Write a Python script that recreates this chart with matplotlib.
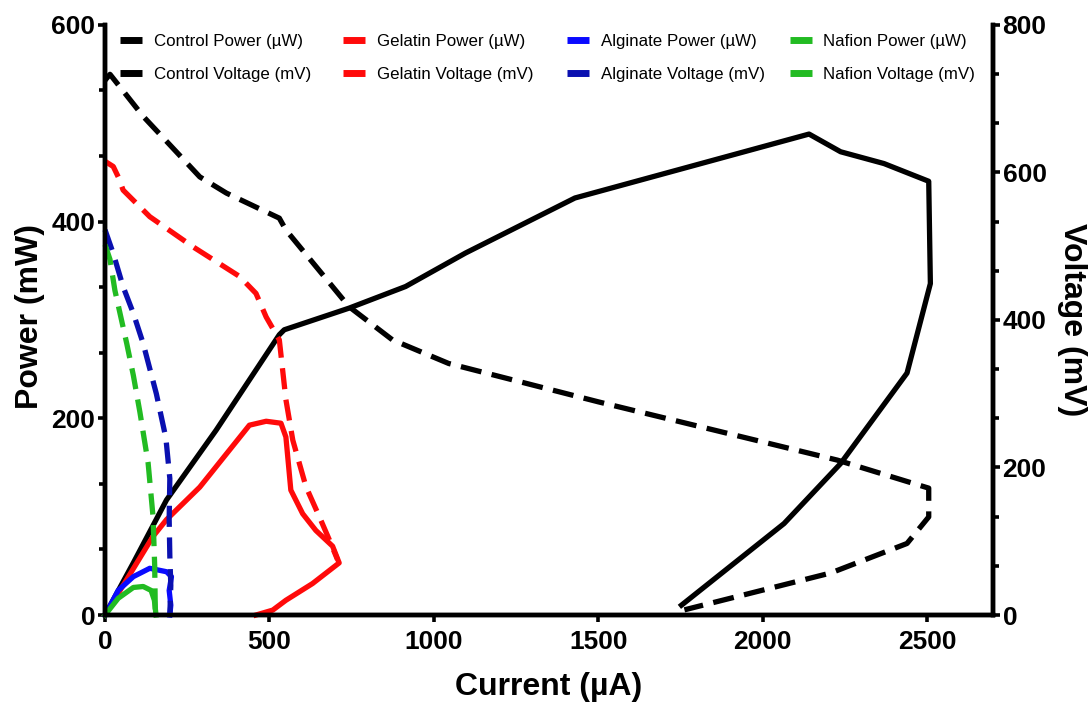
import matplotlib
matplotlib.use("Agg")
import matplotlib.pyplot as plt
from matplotlib.ticker import AutoMinorLocator, FixedLocator
from matplotlib.lines import Line2D
from matplotlib.legend import Legend

# ---------------- data (current in µA) ----------------
control_power_I = [0, 86, 187, 338, 530, 545, 742, 914, 1096, 1429, 2141, 2237, 2369, 2505, 2510, 2439, 2237, 2065, 1753]
control_power_P = [0, 53, 117, 188, 285, 290, 312, 334, 368, 424, 489, 471, 459, 441, 337, 246, 154, 93, 10]

control_volt_I = [0, 15, 116, 288, 369, 530, 550, 742, 874, 1045, 1500, 2227, 2505, 2505, 2439, 2207, 1762]
control_volt_V = [725, 733, 676, 594, 572, 538, 522, 418, 373, 341, 289, 210, 172, 133, 97, 57, 7]

gelatin_power_I = [0, 146, 187, 288, 439, 490, 535, 550, 565, 601, 641, 692, 712, 631, 550, 510, 459]
gelatin_power_P = [0, 80, 97, 130, 193, 197, 195, 181, 127, 103, 86, 70, 53, 32, 15, 5, 0]

gelatin_volt_I = [0, 25, 40, 55, 136, 268, 409, 459, 490, 530, 550, 571, 611, 652, 682, 707]
gelatin_volt_V = [615, 608, 594, 576, 540, 499, 459, 436, 404, 373, 292, 237, 174, 133, 102, 75]

alginate_power_I = [0, 40, 86, 136, 187, 202, 195, 200, 197]
alginate_power_P = [0, 25, 39, 47.5, 44, 39, 25, 10, 0]

alginate_volt_I = [0, 25, 55, 86, 116, 156, 185, 197, 195, 197, 200, 197]
alginate_volt_V = [522, 490, 445, 409, 368, 300, 240, 185, 130, 80, 40, 0]

nafion_power_I = [0, 40, 86, 116, 140, 150, 155]
nafion_power_P = [0, 17, 28, 29, 25, 15, 0]

nafion_volt_I = [0, 15, 30, 50, 66, 86, 106, 131, 146, 151, 153]
nafion_volt_V = [502, 482, 440, 400, 368, 325, 275, 206, 133, 66, 0]

x_ticks = [0, 500, 1000, 1500, 2000, 2500]
power_ticks = [0, 200, 400, 600]
volt_ticks = [0, 200, 400, 600, 800]

legend_columns = [["Control Power (µW)", "Control Voltage (mV)"],
                  ["Gelatin Power (µW)", "Gelatin Voltage (mV)"],
                  ["Alginate Power (µW)", "Alginate Voltage (mV)"],
                  ["Nafion Power (µW)", "Nafion Voltage (mV)"]]

BLACK = "#000000"
RED = "#ff0a0a"
BLUE = "#0a0aff"
NAVY = "#0a10b0"
GREEN = "#22bb22"
legend_colors = [[BLACK, BLACK], [RED, RED], [BLUE, NAVY], [GREEN, GREEN]]

plt.rcParams['font.family'] = ['Liberation Sans', 'DejaVu Sans']
tick_family = ['Liberation Sans', 'DejaVu Sans']

fig = plt.figure(figsize=(10.92, 7.11), dpi=100)
ax = fig.add_axes([0.0962, 0.135, 0.813, 0.830])
ax2 = ax.twinx()

LW = 3.8
DASH = (4, 2)

ax.plot(control_power_I, control_power_P, color=BLACK, lw=LW, clip_on=False)
ax.plot(gelatin_power_I, gelatin_power_P, color=RED, lw=LW, clip_on=False)
ax.plot(alginate_power_I, alginate_power_P, color=BLUE, lw=LW, clip_on=False)
ax.plot(nafion_power_I, nafion_power_P, color=GREEN, lw=LW, clip_on=False)

ax2.plot(control_volt_I, control_volt_V, color=BLACK, lw=LW, dashes=DASH, clip_on=False)
ax2.plot(gelatin_volt_I, gelatin_volt_V, color=RED, lw=LW, dashes=DASH, clip_on=False)
ax2.plot(alginate_volt_I, alginate_volt_V, color=NAVY, lw=LW, dashes=DASH, clip_on=False)
ax2.plot(nafion_volt_I, nafion_volt_V, color=GREEN, lw=LW, dashes=DASH, clip_on=False)

ax.set_xlim(0, 2700)
ax.set_ylim(0, 600)
ax2.set_ylim(0, 800)

for a in (ax, ax2):
    a.spines['top'].set_visible(False)
    for s in ('left', 'right', 'bottom'):
        a.spines[s].set_linewidth(3.2)

ax.xaxis.set_major_locator(FixedLocator(x_ticks))
ax.yaxis.set_major_locator(FixedLocator(power_ticks))
ax.yaxis.set_minor_locator(AutoMinorLocator(3))
ax2.yaxis.set_major_locator(FixedLocator(volt_ticks))
ax2.yaxis.set_minor_locator(AutoMinorLocator(3))

ax.tick_params(axis='y', which='major', length=5, width=2.6, direction='out', pad=2)
ax.tick_params(axis='x', which='major', length=5, width=2.6, direction='out', pad=6)
ax.tick_params(axis='y', which='minor', length=4, width=2.6, direction='out')
ax2.tick_params(axis='y', which='major', length=5, width=2.6, direction='out', pad=2)
ax2.tick_params(axis='y', which='minor', length=4, width=2.6, direction='out')

for lab in ax.get_xticklabels() + ax.get_yticklabels() + ax2.get_yticklabels():
    lab.set_fontfamily(tick_family)
    lab.set_fontweight('bold')
    lab.set_fontsize(19)

LABEL_FS = 23
ax.set_xlabel("Current (µA)", fontsize=LABEL_FS, fontweight='bold', va='center', ha='center')
ax.xaxis.set_label_coords(0.5, -0.122)
ax.set_ylabel("Power (mW)", fontsize=LABEL_FS, fontweight='bold', va='center', ha='center')
ax.yaxis.set_label_coords(-0.085, 0.505)
ax2.set_ylabel("Voltage (mV)", fontsize=LABEL_FS, fontweight='bold', rotation=270, va='center', ha='center')
ax2.yaxis.set_label_coords(1.089, 0.5)

# legend: four columns placed individually
col_x = [0.0169, 0.268, 0.520, 0.771]
for xs, labels, cols in zip(col_x, legend_columns, legend_colors):
    handles = [Line2D([0], [0], color=c, lw=5, solid_capstyle='butt') for c in cols]
    leg = Legend(ax2, handles, labels, loc='upper left', bbox_to_anchor=(xs, 0.985),
                 frameon=False, fontsize=12.2, handlelength=1.3, handletextpad=0.7,
                 labelspacing=1.1, borderaxespad=0.0, borderpad=0.0)
    ax2.add_artist(leg)

fig.savefig("out.png", dpi=100)
